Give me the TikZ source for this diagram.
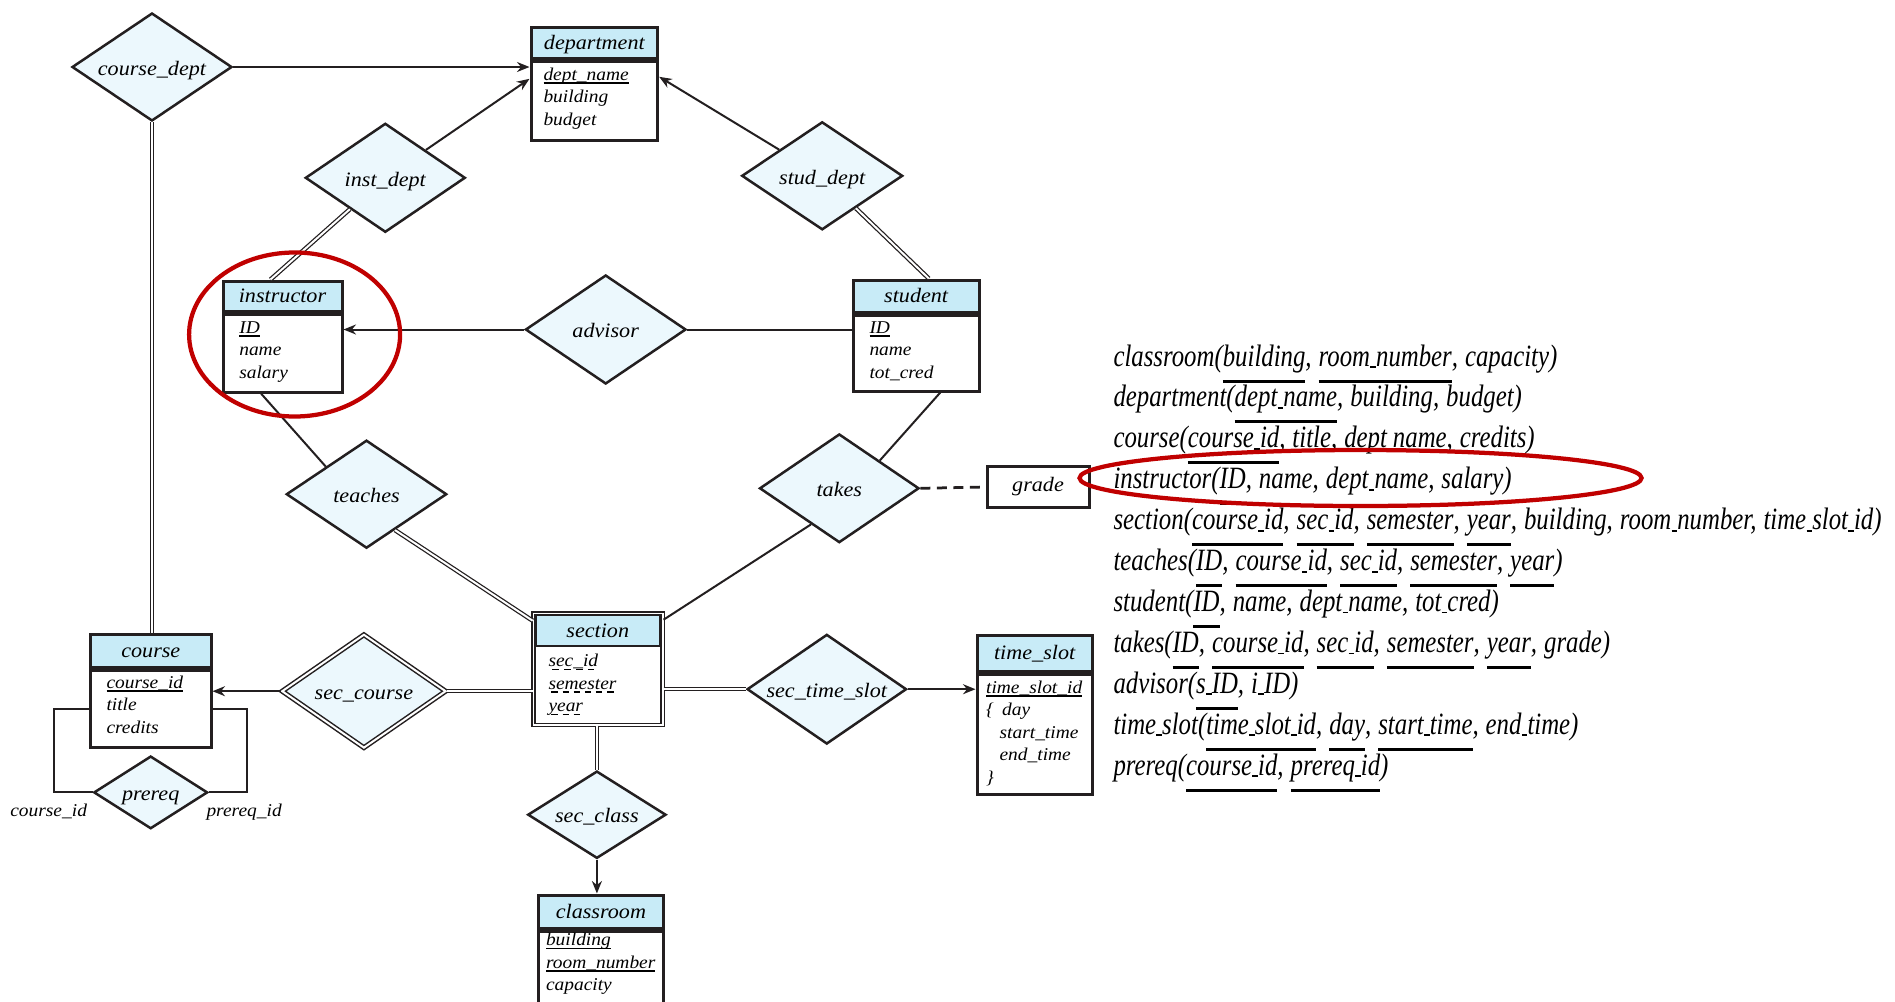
\documentclass[tikz,border=0pt]{standalone}
\usepackage{fontspec}
\setmainfont{Liberation Serif}
\newfontfamily\erfont[FakeStretch=1.08]{Liberation Serif}
\newfontfamily\schemafont[FakeStretch=0.8]{Liberation Serif}
\usetikzlibrary{positioning,shapes.geometric,arrows.meta,calc}

\definecolor{ink}{RGB}{35,31,32}
\definecolor{hdrblue}{RGB}{200,235,247}
\definecolor{relfill}{RGB}{236,248,253}
\definecolor{markred}{RGB}{192,0,0}

\newcommand\upx{0.4pt}
\newcommand\ername{\erfont\itshape\fontsize{8.2}{10}\selectfont}
\newcommand\erattr{\erfont\itshape\fontsize{7.2}{9}\selectfont}
\newcommand\schematext{\schemafont\itshape\fontsize{12.4}{16.36}\selectfont}
% keys: solid, dashed (discriminator), and in the schema list
\newcommand\pk[1]{\leavevmode\setbox0\hbox{#1}\rlap{\rule[-1.4pt]{\wd0}{0.6pt}}\box0}
\newcommand\dk[1]{\leavevmode\setbox0\hbox{#1}\rlap{\raisebox{-1.4pt}{\hbox to\wd0{\xleaders\hbox to 4pt{\hss\rule{2.6pt}{0.6pt}\hss}\hfil}}}\box0}
\newcommand\rk[1]{\leavevmode\setbox0\hbox{#1}\rlap{\rule[-6.6pt]{\wd0}{1.2pt}}\box0}
% short underscore of the schema list
\newcommand\su{\kern0.1pt\rule[-0.8pt]{2.2pt}{0.7pt}\kern0.1pt}

\tikzset{
	entity/.style={draw=ink, line width=1.2pt, fill=hdrblue, font=\ername, inner sep=0pt, text height=0.72em, text depth=0.2em},
	ebody/.style={draw=ink, line width=1.2pt, fill=white, inner sep=0pt},
	attr/.style={font=\erattr, inner sep=0pt, text width=45pt, align=left, anchor=base west},
	rel/.style={diamond, aspect=1.47, draw=ink, line width=1pt, fill=relfill, font=\ername, inner sep=0pt, text height=0.72em, text depth=0.06em},
	weakrel/.style={rel, line width=0.6pt, double=white, double distance=0.8pt},
	link/.style={draw=ink, line width=0.8pt},
	total/.style={draw=ink, line width=0.5pt, double=white, double distance=0.8pt},
	arr/.style={link, -{Stealth[length=5pt, width=4pt]}},
	redmark/.style={draw=markred, line width=1.7pt},
}

\begin{document}
\begin{tikzpicture}[x=0.4pt, y=-0.4pt]
	\useasboundingbox (0,0) rectangle (1895,1001);
	\clip (0,0) rectangle (1895,1001);
	% entity sets
	\node[entity, minimum width=126.7*\upx, minimum height=31.3*\upx] (dept) at (594.35,42.65) {department};
	\node[ebody, minimum width=126.7*\upx, minimum height=79*\upx, below=0pt of dept] (dept-b) {};
	\node[attr] (dept-a) at (543,80) {\pk{dept\_name}\\ building\\ budget};

	\node[entity, minimum width=119*\upx, minimum height=30*\upx] (instr) at (282.5,296) {instructor};
	\node[ebody, minimum width=119*\upx, minimum height=78*\upx, below=0pt of instr] (instr-b) {};
	\node[attr] (instr-a) at (238.8,333.3) {\pk{ID}\\ name\\ salary};

	\node[entity, minimum width=125.7*\upx, minimum height=32*\upx] (stud) at (916.15,296) {student};
	\node[ebody, minimum width=125.7*\upx, minimum height=76*\upx, below=0pt of stud] (stud-b) {};
	\node[attr] (stud-a) at (869,333) {\pk{ID}\\ name\\ tot\_cred};

	\node[entity, minimum width=120.4*\upx, minimum height=33.4*\upx] (course) at (150.8,651) {course};
	\node[ebody, minimum width=120.4*\upx, minimum height=76.3*\upx, below=0pt of course] (course-b) {};
	\node[attr] (course-a) at (106,688.3) {\pk{course\_id}\\ title\\ credits};

	\node[draw=ink, line width=0.6pt, double=white, double distance=0.7pt, minimum width=129.4*\upx, minimum height=111.5*\upx, inner sep=0pt] (sec) at (598.1,669.2) {};
	\node[entity, line width=0.8pt, minimum width=124.1*\upx, minimum height=30.4*\upx] (sec-h) at (597.75,630.5) {section};
	\node[attr] (sec-a) at (548,666.7) {\dk{sec\_id}\\ \dk{semester}\\ \dk{year}};

	\node[entity, minimum width=115.3*\upx, minimum height=35.3*\upx] (slot) at (1034.65,653.35) {time\_slot};
	\node[ebody, minimum width=115.3*\upx, minimum height=120.7*\upx, below=0pt of slot] (slot-b) {};
	\node[attr] (slot-a) at (985.6,693.3) {\pk{time\_slot\_id}\\ \{\hspace{3.3pt}day\\ \hspace*{5.4pt}start\_time\\ \hspace*{5.4pt}end\_time\\ \}};

	\node[entity, minimum width=124.2*\upx, minimum height=33.3*\upx] (room) at (600.9,911.65) {classroom};
	\node[ebody, minimum width=124.2*\upx, minimum height=90*\upx, below=0pt of room] (room-b) {};
	\node[attr] (room-a) at (545.5,945.7) {\pk{building}\\ \pk{room\_number}\\ capacity};

	\node[draw=ink, line width=1.2pt, font=\ername, minimum width=102*\upx, minimum height=40.6*\upx, inner sep=0pt] (grade) at (1038,487) {grade};

	% relationship sets
	\node[rel, minimum width=160*\upx, minimum height=108*\upx] (cdept) at (152,67) {course\_dept};
	\node[rel, minimum width=160*\upx, minimum height=109*\upx] (idept) at (385.3,177.8) {inst\_dept};
	\node[rel, minimum width=161*\upx, minimum height=108*\upx] (sdept) at (822.2,175.8) {stud\_dept};
	\node[rel, minimum width=160.6*\upx, minimum height=109*\upx] (advisor) at (605.7,329.5) {advisor};
	\node[rel, minimum width=160.4*\upx, minimum height=108*\upx] (teaches) at (366.5,494.2) {teaches};
	\node[rel, minimum width=159.5*\upx, minimum height=108.7*\upx] (takes) at (839.3,488.3) {takes};
	\node[weakrel, minimum width=164*\upx, minimum height=113.5*\upx] (seccourse) at (363.9,691.2) {sec\_course};
	\node[rel, minimum width=159.5*\upx, minimum height=109.7*\upx] (secslot) at (826.8,689.2) {sec\_time\_slot};
	\node[rel, minimum width=138.3*\upx, minimum height=87.3*\upx] (secclass) at (596.9,814.7) {sec\_class};
	\node[rel, minimum width=113.9*\upx, minimum height=72.7*\upx] (prereq) at (150.7,792.4) {prereq};

	% connectors
	\draw[arr] (cdept) -- (cdept -| dept-b.west);
	\draw[arr] (idept) -- ($(dept-b.north west)+(0,19)$);
	\draw[arr] (sdept) -- ($(dept-b.north east)+(0,17)$);
	\draw[total] (idept) -- ($(instr.north west)+(49,0)$);
	\draw[total] (sdept) -- ($(stud.north west)+(77,0)$);
	\draw[arr] (advisor) -- (advisor -| instr-b.east);
	\draw[link] (advisor) -- (advisor -| stud-b.west);
	\draw[link] ($(instr-b.south west)+(39.5,0)$) -- (teaches.north west);
	\draw[link] ($(stud-b.south west)+(88.5,0)$) -- (takes.north east);
	\draw[link, line width=1.1pt, dash pattern=on 4pt off 2.6pt] (takes.east) -- (grade.west);
	\draw[total] ($(teaches.south)!0.35!(teaches.east)$) -- ($(sec.north west)+(0,8)$);
	\draw[link] ($(takes.south)!0.35!(takes.west)$) -- ($(sec.north east)+(0,7)$);
	\draw[arr] (seccourse) -- (seccourse -| course-b.east);
	\draw[total] (seccourse) -- (seccourse -| sec.west);
	\draw[total] (sec.east |- secslot) -- (secslot);
	\draw[arr] (secslot) -- (secslot -| slot-b.west);
	\draw[total] (secclass |- sec.south) -- (secclass);
	\draw[arr] (secclass) -- (secclass |- room.north);
	\draw[total] (cdept) -- (cdept |- course.north);
	\draw[link] (course-b.west) -- ++(-35.6,0) |- (prereq.west);
	\draw[link] (course-b.east) -- ++(34.5,0) |- (prereq.east);
	\node[font=\erattr, inner sep=0pt, anchor=base west] (role-c) at (9.8,816) {course\_id};
	\node[font=\erattr, inner sep=0pt, anchor=base west] (role-p) at (206,816) {prereq\_id};

	% relation schemas
	\node[font=\schematext, inner sep=0pt, text width=340pt, align=left, anchor=base west] (schema) at (1113,366) {%
		\spaceskip=2.8pt\relax
		classroom(\rk{building}, \rk{room\su number}, capacity)\\
		department(\rk{dept\su name}, building, budget)\\
		course(\rk{course\su id}, title, dept\su name, credits)\\
		instructor(\rk{ID}, name, dept\su name, salary)\\
		section(\rk{course\su id}, \rk{sec\su id}, \rk{semester}, \rk{year}, building, room\su number, time\su slot\su id)\\
		teaches(\rk{ID}, \rk{course\su id}, \rk{sec\su id}, \rk{semester}, \rk{year})\\
		student(\rk{ID}, name, dept\su name, tot\su cred)\\
		takes(\rk{ID}, \rk{course\su id}, \rk{sec\su id}, \rk{semester}, \rk{year}, grade)\\
		advisor(\rk{s\su ID}, i\su ID)\\
		time\su slot(\rk{time\su slot\su id}, \rk{day}, \rk{start\su time}, end\su time)\\
		prereq(\rk{course\su id}, \rk{prereq\su id})};

	% highlights
	\draw[redmark] (294.6,334.5) ellipse [x radius=42.2pt, y radius=32.8pt];
	\draw[redmark] (1360.5,478) ellipse [x radius=112.4pt, y radius=11.2pt];
\end{tikzpicture}
\end{document}
